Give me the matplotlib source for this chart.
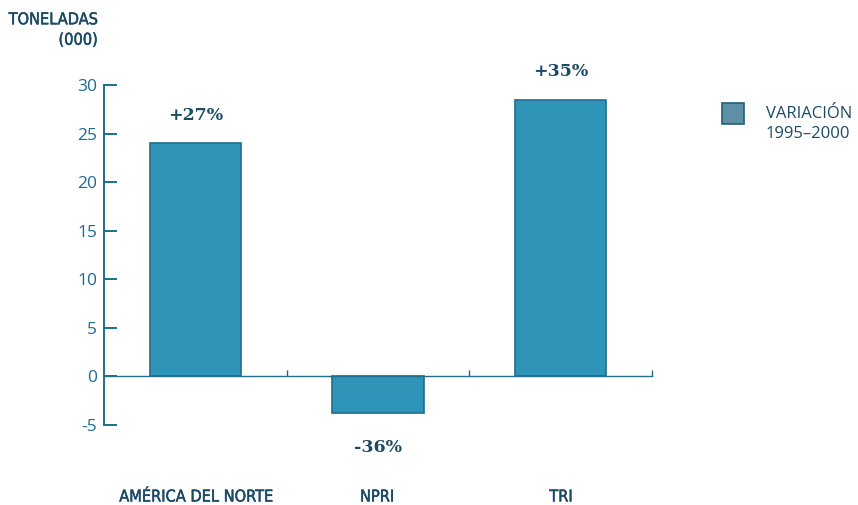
import matplotlib
matplotlib.use("Agg")
import matplotlib.pyplot as plt
import matplotlib.patches as mpatches
import matplotlib.patheffects as pe

categories = ["AMÉRICA DEL NORTE", "NPRI", "TRI"]
values = [24.0, -3.8, 28.5]
pct_labels = ["+27%", "-36%", "+35%"]
yticks = [-5, 0, 5, 10, 15, 20, 25, 30]
legend_label = "VARIACIÓN\n1995–2000"
ylabel = "TONELADAS\n(000)"

sans = "Open Sans"

bar_color = "#2e95b9"
edge_color = "#1f6e8c"
axis_color = "#1f6e8c"
navy = "#1b4a66"
tick_color = "#1f6a92"

semi = [pe.withStroke(linewidth=0.35, foreground=navy)]

fig = plt.figure(figsize=(8.58, 5.05), dpi=100)
ax = fig.add_axes([104/858, 1-425/505, (652-104)/858, (425-85)/505])

x = list(range(len(categories)))
ax.bar(x, values, width=0.5, color=bar_color, edgecolor=edge_color, linewidth=1.2, zorder=2)

ax.set_xlim(-0.5, 2.5)
ax.set_ylim(-5, 30)
ax.spines["top"].set_visible(False)
ax.spines["right"].set_visible(False)
ax.spines["left"].set_color(axis_color)
ax.spines["left"].set_linewidth(1.4)
ax.spines["bottom"].set_position(("data", 0))
ax.spines["bottom"].set_color(axis_color)
ax.spines["bottom"].set_linewidth(1.0)
ax.spines["bottom"].set_zorder(3)

ax.set_yticks(yticks)
ax.set_yticklabels([str(v) for v in yticks], fontfamily=sans, fontsize=12.5, color=tick_color)
ax.tick_params(axis="y", direction="in", length=9.5, width=1.4, color=axis_color, pad=5)
ax.set_xticks([0.5, 1.5, 2.5])
ax.set_xticklabels([])
ax.tick_params(axis="x", direction="in", length=4.5, width=1.0, color=axis_color)

cat_x = [196, 377, 561]
for cx, cat in zip(cat_x, categories):
    fig.text(cx/858, 1-497/505, cat, ha="center", va="center", fontfamily="DejaVu Sans",
             fontstretch="condensed", fontsize=11.7, color=navy, fontweight="normal",
             path_effects=semi)

for xi, v, lab in zip(x, values, pct_labels):
    off = 28 if v >= 0 else -34
    ax.annotate(lab, xy=(xi, v), xytext=(0, off), textcoords="offset pixels",
                ha="center", va="center", fontfamily="DejaVu Serif", fontweight="bold",
                fontsize=12.5, color=navy)

fig.text(98/858, 1-30/505, ylabel, ha="right", va="center", fontfamily="DejaVu Sans",
         fontstretch="condensed", fontsize=11.7, color=navy, fontweight="normal",
         linespacing=1.45, path_effects=semi)

# legend
fig.patches.append(mpatches.Rectangle((722/858, 1-124/505), 22/858, 21/505,
                                      transform=fig.transFigure, facecolor="#5f8fa2",
                                      edgecolor="#215f7a", linewidth=1.2))
fig.text(766/858, 1-124/505, legend_label, ha="left", va="center", fontfamily=sans,
         fontsize=12, color=navy, linespacing=1.3)

fig.savefig("out.png", dpi=100)
